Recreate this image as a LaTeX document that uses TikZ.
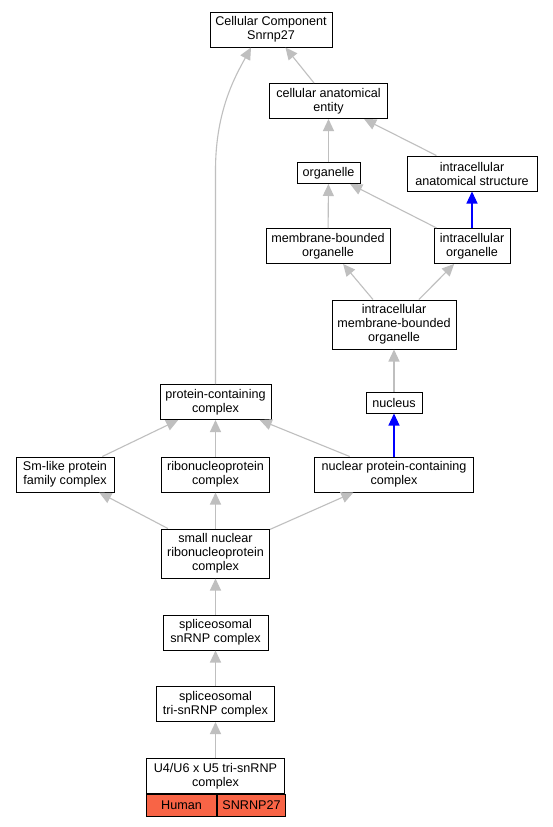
\documentclass[tikz,border=0pt]{standalone}
\usepackage{fontspec}
\setmainfont{Liberation Sans}
\usetikzlibrary{arrows.meta}
\definecolor{EdgeGrey}{HTML}{BFBFBF}
\definecolor{PartBlue}{HTML}{0000FF}
\definecolor{Tomato}{HTML}{F86446}

\begin{document}
\begin{tikzpicture}[x=1pt,y=-1pt,
  every node/.style={font=\fontsize{12.6}{14}\selectfont,text=black},
  term/.style={draw=black,line width=1pt,fill=white,align=center,inner xsep=4pt,inner ysep=2pt,minimum height=21pt},
  two/.style={term,minimum height=35pt},
  three/.style={term,minimum height=49pt},
  isa/.style={EdgeGrey,line width=1.1pt,-{Triangle[length=12pt,width=11pt]}},
  partof/.style={PartBlue,line width=1.1pt,-{Triangle[length=12pt,width=11pt]}}]
\fill[white] (0,0) rectangle (552,827);
\useasboundingbox (0,0) rectangle (552,827);
\node[two,minimum width=122pt] (cc) at (271,29.5) {Cellular Component\\Snrnp27};
\node[two,minimum width=118pt] (cae) at (328.5,101) {cellular anatomical\\entity};
\node[term,minimum width=63pt] (org) at (328.5,173) {organelle};
\node[two,minimum width=130pt] (ias) at (472,173.5) {intracellular\\anatomical structure};
\node[two,minimum width=124pt] (mbo) at (328,246) {membrane-bounded\\organelle};
\node[two,minimum width=76pt] (io) at (472,246) {intracellular\\organelle};
\node[three,minimum width=124pt] (imbo) at (394,324.5) {intracellular\\membrane-bounded\\organelle};
\node[term,minimum width=56pt] (nuc) at (394,402.5) {nucleus};
\node[two,minimum width=111pt] (pcc) at (215.5,402) {protein-containing\\complex};
\node[two,minimum width=98pt] (sm) at (65,474.5) {Sm-like protein\\family complex};
\node[two,minimum width=108pt] (rnp) at (215.5,474.5) {ribonucleoprotein\\complex};
\node[two,minimum width=159pt] (npcc) at (394,474.5) {nuclear protein-containing\\complex};
\node[three,minimum width=108pt] (snrnp) at (215.5,553.5) {small nuclear\\ribonucleoprotein\\complex};
\node[two,minimum width=105pt] (ssnrnp) at (215.5,632.5) {spliceosomal\\snRNP complex};
\node[two,minimum width=118pt] (tri) at (215.5,704) {spliceosomal\\tri-snRNP complex};
\node[two,minimum width=138pt] (u4) at (215.5,776) {U4/U6 x U5 tri-snRNP\\complex};
\node[term,fill=Tomato,minimum width=70pt,minimum height=22pt,anchor=north west] (human) at (u4.south west) {Human};
\node[term,fill=Tomato,minimum width=68pt,minimum height=22pt,anchor=north west] (gene) at (human.north east) {SNRNP27};
\draw[isa] (cae) -- (cc);
\draw[isa] (org) -- (cae);
\draw[isa] (ias) -- (cae);
\draw[isa] (mbo) -- (org);
\draw[isa] (io) -- (org);
\draw[partof] (io) -- (ias);
\draw[isa] (imbo) -- (mbo);
\draw[isa] (imbo) -- (io);
\draw[isa] (nuc) -- (imbo);
\draw[partof] (npcc) -- (nuc);
\draw[isa] (npcc) -- (pcc);
\draw[isa] (rnp) -- (pcc);
\draw[isa] (sm) -- (pcc);
\draw[isa] (snrnp) -- (sm);
\draw[isa] (snrnp) -- (rnp);
\draw[isa] (snrnp) -- (npcc);
\draw[isa] (ssnrnp) -- (snrnp);
\draw[isa] (tri) -- (ssnrnp);
\draw[isa] (u4) -- (tri);
\draw[isa] (pcc.north) -- (215.5,170) .. controls (215.5,110) and (236,75) .. ([xshift=-20pt]cc.south);
\end{tikzpicture}
\end{document}
